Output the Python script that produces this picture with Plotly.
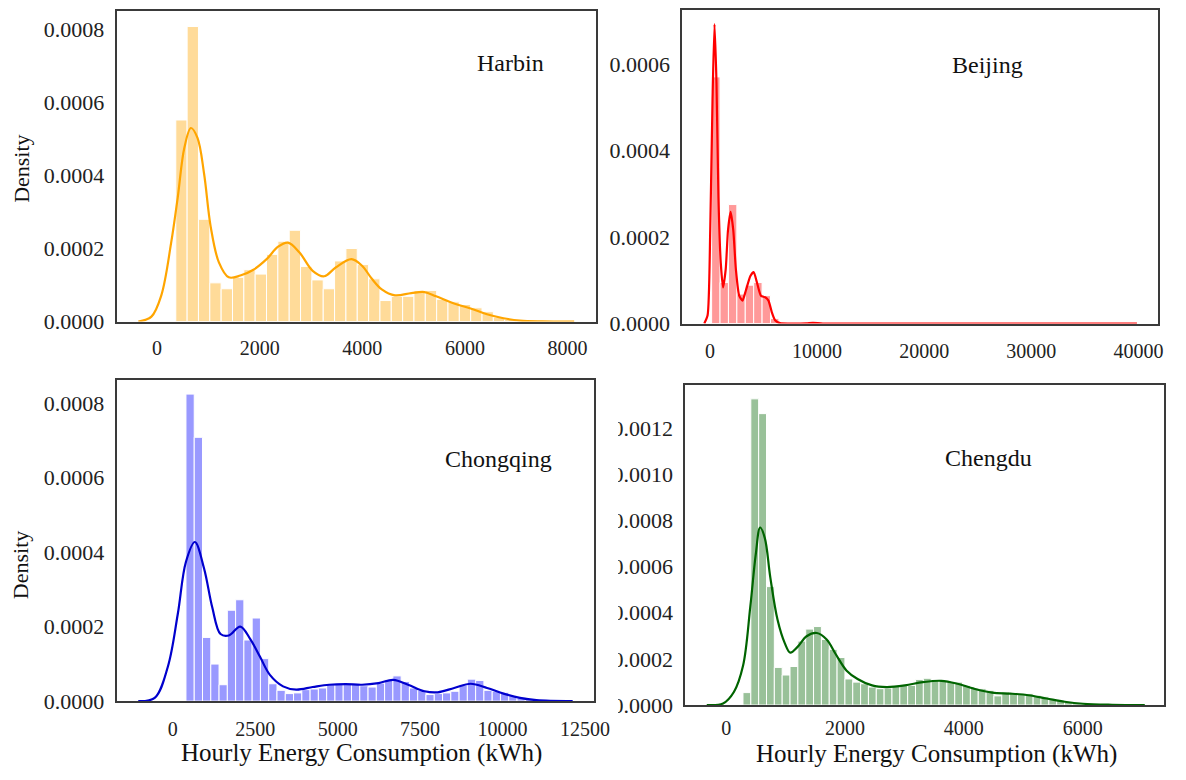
import plotly.graph_objects as go

W, H = 1186, 780

# ---------------- Harbin ----------------
harbin_bin_start = 365
harbin_bin_width = 221
harbin_density = [0.000552, 0.000808, 0.000280, 0.000106, 0.0000898, 0.000121, 0.000142,
                  0.000130, 0.000184, 0.000220, 0.000250, 0.000151, 0.000114, 0.0000898,
                  0.000166, 0.000200, 0.000156, 0.000117, 0.0000575, 0.0000691, 0.0000691,
                  0.0000853, 0.0000853, 0.0000611, 0.0000539, 0.0000467, 0.0000377, 0.0000269,
                  0.000012, 0.000006]
harbin_kde_x = [-365, -110, 83, 275, 404, 532, 660, 788, 917, 1045, 1205, 1397, 1622, 1878,
                2135, 2359, 2551, 2776, 3032, 3256, 3481, 3788, 3994, 4186, 4378, 4635, 4955,
                5212, 5436, 5788, 6109, 6429, 6750, 7071, 7500, 8128]
harbin_kde_y = [0.0, 0.0000135, 0.0000718, 0.000216, 0.000341, 0.000476, 0.000530, 0.000503,
                0.000404, 0.000260, 0.000162, 0.000121, 0.000126, 0.000142, 0.000171, 0.000205,
                0.000216, 0.000189, 0.000139, 0.000124, 0.000148, 0.000171, 0.000153, 0.000117,
                0.000088, 0.0000718, 0.0000781, 0.0000808, 0.0000691, 0.0000494, 0.0000359,
                0.0000198, 0.000009, 0.0000027, 0.0000005, 0.0]
harbin_xticks = [0, 2000, 4000, 6000, 8000]
harbin_yticks = [0, 0.0002, 0.0004, 0.0006, 0.0008]

# ---------------- Beijing ----------------
beijing_bin_start = 160
beijing_bin_width = 785
beijing_density = [0.000570, 0.0000947, 0.000275, 0.0000680, 0.0000886, 0.0000947,
                   0.0000644, 0.0000114]
beijing_kde_x = [-525, -215, 31, 246, 430, 614, 798, 1014, 1229, 1475, 1690, 1935, 2181,
                 2427, 2734, 3041, 3349, 3779, 4086, 4393, 4762, 5161, 5468, 5775, 6083,
                 6544, 7742, 9000, 9613, 10535, 15000, 25000, 39860]
beijing_kde_y = [0.0, 0.0000189, 0.000216, 0.000519, 0.000692, 0.000557, 0.000292, 0.000140,
                 0.0000833, 0.000125, 0.000216, 0.000258, 0.000216, 0.000125, 0.0000644,
                 0.000053, 0.0000758, 0.000110, 0.000119, 0.0000947, 0.0000644, 0.0000606,
                 0.000053, 0.0000265, 0.0000076, 0.0000008, 0.0, 0.0000005, 0.0000015, 0.0,
                 0.0, 0.0, 0.0]
beijing_xticks = [0, 10000, 20000, 30000, 40000]
beijing_yticks = [0, 0.0002, 0.0004, 0.0006]

# ---------------- Chongqing ----------------
chongqing_bin_start = 399
chongqing_bin_width = 251
chongqing_density = [0.000824, 0.000708, 0.000171, 0.0000994, 0.0000440, 0.000244, 0.000272,
                     0.000164, 0.000223, 0.000114, 0.0000466, 0.0000290, 0.0000202, 0.0000220,
                     0.0000308, 0.0000325, 0.0000352, 0.0000440, 0.0000466, 0.0000466,
                     0.0000466, 0.0000413, 0.0000378, 0.0000484, 0.0000572, 0.0000677,
                     0.0000528, 0.0000352, 0.0000290, 0.0000176, 0.0000202, 0.0000220,
                     0.0000264, 0.0000440, 0.0000589, 0.0000554, 0.0000290, 0.0000264,
                     0.0000237, 0.0000150, 0.0000088, 0.0000044]
chongqing_kde_x = [-1048, -549, -150, 150, 399, 669, 948, 1198, 1447, 1697, 2046, 2345, 2645,
                   2944, 3343, 3743, 4242, 4741, 5240, 5739, 6238, 6687, 7136, 7635, 8034,
                   8533, 9032, 9531, 10030, 10529, 11028, 12126]
chongqing_kde_y = [0.0, 0.0000088, 0.0000923, 0.000233, 0.000374, 0.000427, 0.000356,
                   0.000251, 0.000180, 0.000176, 0.000200, 0.000167, 0.000119, 0.0000704,
                   0.0000396, 0.0000308, 0.0000378, 0.0000440, 0.0000457, 0.0000440,
                   0.0000484, 0.0000572, 0.0000440, 0.0000264, 0.0000237, 0.0000352,
                   0.0000466, 0.0000352, 0.0000202, 0.0000088, 0.0000026, 0.0]
chongqing_xticks = [0, 2500, 5000, 7500, 10000, 12500]
chongqing_yticks = [0, 0.0002, 0.0004, 0.0006, 0.0008]

# ---------------- Chengdu ----------------
chengdu_bin_start = 282
chengdu_bin_width = 132
chengdu_density = [0.0000539, 0.001326, 0.001262, 0.000513, 0.000163, 0.000130, 0.000167,
                   0.000277, 0.000329, 0.000340, 0.000284, 0.000241, 0.000206, 0.000113,
                   0.0000993, 0.0000922, 0.0000780, 0.0000709, 0.0000737, 0.0000851,
                   0.0000851, 0.0000851, 0.000111, 0.000116, 0.000106, 0.000106, 0.000102,
                   0.0000993, 0.0000851, 0.0000737, 0.0000709, 0.0000638, 0.0000397,
                   0.0000567, 0.0000539, 0.0000496, 0.0000496, 0.0000425, 0.0000355,
                   0.0000284, 0.0000213, 0.0000142, 0.0000085]
chengdu_kde_x = [-328, -53, 129, 283, 405, 497, 571, 650, 742, 864, 987, 1078, 1201, 1353,
                 1525, 1691, 1844, 2027, 2211, 2455, 2700, 3007, 3312, 3619, 3894, 4170, 4475,
                 4781, 5086, 5393, 5698, 6005, 6494, 7045]
chengdu_kde_y = [0.0, 0.0000071, 0.0000567, 0.000170, 0.000425, 0.000652, 0.000769, 0.000723,
                 0.000553, 0.000369, 0.000267, 0.000227, 0.000252, 0.000298, 0.000312,
                 0.000284, 0.000220, 0.000149, 0.000113, 0.0000851, 0.0000780, 0.0000851,
                 0.0000993, 0.000105, 0.0000922, 0.0000709, 0.0000539, 0.0000496, 0.0000425,
                 0.0000284, 0.0000142, 0.0000057, 0.0000014, 0.0]
chengdu_xticks = [0, 2000, 4000, 6000]
chengdu_yticks = [0, 0.0002, 0.0004, 0.0006, 0.0008, 0.0010, 0.0012]

x_label = "Hourly Energy Consumption (kWh)"
y_label = "Density"

SERIF = "Liberation Serif, Times New Roman, serif"
FRAME = "#3a3a3a"

panels = [
    dict(name="Harbin", start=harbin_bin_start, width=harbin_bin_width, dens=harbin_density,
         kx=harbin_kde_x, ky=harbin_kde_y, line="#FFA500", bar="rgba(255,165,0,0.4)",
         box=(118, 604, 11, 327), xr=[-790, 8560], yr=[0, 0.000851],
         xt=harbin_xticks, yt=harbin_yticks, title_xy=(517, 64), smooth=1.0, xpad=8),
    dict(name="Beijing", start=beijing_bin_start, width=beijing_bin_width, dens=beijing_density,
         kx=beijing_kde_x, ky=beijing_kde_y, line="#FF0000", bar="rgba(255,0,0,0.4)",
         box=(691, 1173, 10, 329), xr=[-2580, 41840], yr=[0, 0.000725],
         xt=beijing_xticks, yt=beijing_yticks, title_xy=(1000, 66), smooth=0.6, xpad=9),
    dict(name="Chongqing", start=chongqing_bin_start, width=chongqing_bin_width,
         dens=chongqing_density, kx=chongqing_kde_x, ky=chongqing_kde_y, line="#0000CD",
         bar="rgba(0,0,255,0.4)", box=(118, 602, 386, 713), xr=[-1707, 12785],
         yr=[0, 0.000863], xt=chongqing_xticks, yt=chongqing_yticks, title_xy=(505, 467),
         smooth=1.0, xpad=9),
    dict(name="Chengdu", start=chengdu_bin_start, width=chengdu_bin_width, dens=chengdu_density,
         kx=chengdu_kde_x, ky=chengdu_kde_y, line="#006400", bar="rgba(0,100,0,0.4)",
         box=(694, 1179, 392, 717), xr=[-690, 7370], yr=[0, 0.001384],
         xt=chengdu_xticks, yt=chengdu_yticks, title_xy=(1001, 466), smooth=1.0, xpad=4),
]

fig = go.Figure()
layout = dict(width=W, height=H, margin=dict(l=0, r=0, t=0, b=0), showlegend=False,
              paper_bgcolor="white", plot_bgcolor="white", barmode="overlay")
annotations = []

for i, p in enumerate(panels, start=1):
    xa = "x" if i == 1 else f"x{i}"
    ya = "y" if i == 1 else f"y{i}"
    centers = [p["start"] + p["width"] * (k + 0.5) for k in range(len(p["dens"]))]
    fig.add_trace(go.Bar(x=centers, y=p["dens"], width=p["width"], marker_color=p["bar"],
                         marker_line_color="white", marker_line_width=1.0,
                         xaxis=xa, yaxis=ya))
    fig.add_trace(go.Scatter(x=p["kx"], y=p["ky"], mode="lines",
                             line=dict(color=p["line"], width=2.2, shape="spline",
                                       smoothing=p["smooth"]),
                             xaxis=xa, yaxis=ya))
    x0, x1, y0, y1 = p["box"]
    axis_common = dict(showline=True, mirror=True, linecolor=FRAME, linewidth=1.6,
                       showgrid=False, zeroline=False, ticks="")
    layout["xaxis" + ("" if i == 1 else str(i))] = dict(
        axis_common, domain=[x0 / W, x1 / W], range=p["xr"], tickvals=p["xt"],
        ticktext=[str(v) for v in p["xt"]], anchor=ya, ticklabelstandoff=p["xpad"],
        tickfont=dict(family=SERIF, size=20, color="#222"))
    layout["yaxis" + ("" if i == 1 else str(i))] = dict(
        axis_common, domain=[1 - y1 / H, 1 - y0 / H], range=p["yr"], tickvals=p["yt"],
        ticktext=[f"{v:.4f}" for v in p["yt"]], anchor=xa, ticklabelstandoff=6,
        tickfont=dict(family=SERIF, size=22, color="#222"))
    tx, ty = p["title_xy"]
    annotations.append(dict(text=p["name"], x=tx / W, y=1 - ty / H, xref="paper",
                            yref="paper", showarrow=False, xanchor="center", yanchor="middle",
                            font=dict(family=SERIF, size=24, color="#111")))

for yc in (172, 575):
    annotations.append(dict(text=y_label, x=21 / W, y=1 - yc / H, xref="paper", yref="paper",
                            showarrow=False, textangle=-90, xanchor="center",
                            yanchor="middle", font=dict(family=SERIF, size=22, color="#111")))
for xc, yc in ((366, 766), (948, 767)):
    annotations.append(dict(text=x_label, x=xc / W, y=1 - yc / H,
                            xref="paper", yref="paper", showarrow=False, xanchor="center",
                            yanchor="middle", borderpad=0,
                            font=dict(family=SERIF, size=25, color="#111")))

layout["annotations"] = annotations
# white strip trimming the left edge of the Chengdu density labels
layout["shapes"] = [dict(type="rect", xref="paper", yref="paper", x0=606 / W, x1=626 / W,
                         y0=1 - 726 / H, y1=1 - 420 / H, fillcolor="white",
                         line=dict(width=0), layer="above")]
fig.update_layout(**layout)
fig.write_html("out.html")
